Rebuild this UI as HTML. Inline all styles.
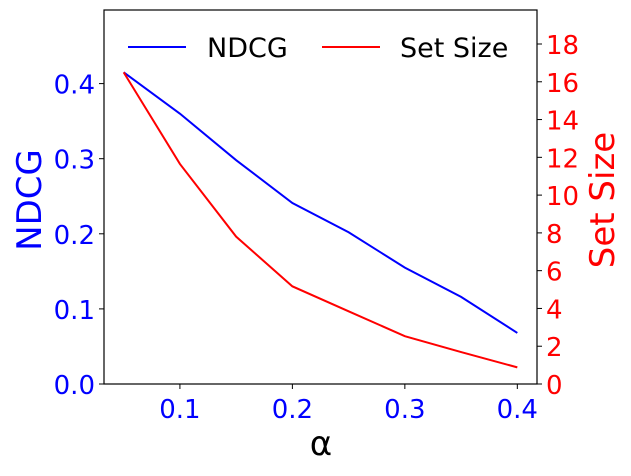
<!DOCTYPE html>
<html><head><meta charset="utf-8"><style>
body{margin:0;background:#fff;}
svg text{font-family:"DejaVu Sans","Liberation Sans",sans-serif;}
</style></head><body>
<svg id="chart" width="631" height="471" xmlns="http://www.w3.org/2000/svg"></svg>
<script>
const alphas=[0.05,0.1,0.15,0.2,0.25,0.3,0.35,0.4];
const ndcg=[0.415,0.360,0.298,0.241,0.202,0.155,0.116,0.068];
const setSize=[16.5,11.65,7.8,5.17,3.85,2.53,1.69,0.88];
const xTicks=[0.1,0.2,0.3,0.4];
const leftTicks=[0.0,0.1,0.2,0.3,0.4];
const rightTicks=[0,2,4,6,8,10,12,14,16,18];
const L=104,R=537,T=10,B=384;
const xMin=0.0325,xMax=0.4175,lMax=0.498,rMax=19.8;
const sx=v=>L+(v-xMin)/(xMax-xMin)*(R-L);
const sl=v=>B-v/lMax*(B-T);
const sr=v=>B-v/rMax*(B-T);
const svg=document.getElementById('chart');
const NS='http://www.w3.org/2000/svg';
function el(tag,attrs,txt){const e=document.createElementNS(NS,tag);for(const k in attrs)e.setAttribute(k,attrs[k]);if(txt!==undefined)e.textContent=txt;svg.appendChild(e);return e;}
let e;
e=el('rect',{x:L,y:T,width:R-L,height:B-T,fill:'none',stroke:'#000','stroke-width':1.2});


xTicks.forEach(t=>{
 e=el('line',{x1:sx(t),x2:sx(t),y1:B,y2:B+5,stroke:'#000'});
 
 
 e=el('text',{x:sx(t),y:B+34,'text-anchor':'middle','font-size':26,fill:'#0000ff'},t.toFixed(1));
 
 
});
leftTicks.forEach(t=>{
 e=el('line',{x1:L-5,x2:L,y1:sl(t),y2:sl(t),stroke:'#000'});
 
 
 e=el('text',{x:L-9,y:sl(t)+10,'text-anchor':'end','font-size':26,fill:'#0000ff'},t.toFixed(1));
 
 
});
rightTicks.forEach(t=>{
 e=el('line',{x1:R,x2:R+5,y1:sr(t),y2:sr(t),stroke:'#000'});
 
 
 e=el('text',{x:R+9,y:sr(t)+10,'text-anchor':'start','font-size':26,fill:'#ff0000'},String(t));
 
 
});
e=el('polyline',{points:alphas.map((a,i)=>sx(a)+','+sl(ndcg[i])).join(' '),fill:'none',stroke:'#0000ff','stroke-width':2});


e=el('polyline',{points:alphas.map((a,i)=>sx(a)+','+sr(setSize[i])).join(' '),fill:'none',stroke:'#ff0000','stroke-width':2});


e=el('text',{x:321,y:455,'text-anchor':'middle','font-size':34,fill:'#000'},'α');


e=el('text',{x:0,y:0,'text-anchor':'middle','font-size':34,fill:'#0000ff',transform:'translate(41,200) rotate(-90)'},'NDCG');


e=el('text',{x:0,y:0,'text-anchor':'middle','font-size':34,fill:'#ff0000',transform:'translate(614,200) rotate(-90)'},'Set Size');


e=el('line',{x1:128,x2:186,y1:47,y2:47,stroke:'#0000ff','stroke-width':2});


e=el('text',{x:207,y:57,'font-size':27,fill:'#000'},'NDCG');


e=el('line',{x1:322,x2:380,y1:47,y2:47,stroke:'#ff0000','stroke-width':2});


e=el('text',{x:400,y:57,'font-size':27,fill:'#000'},'Set Size');


</script>
</body></html>
